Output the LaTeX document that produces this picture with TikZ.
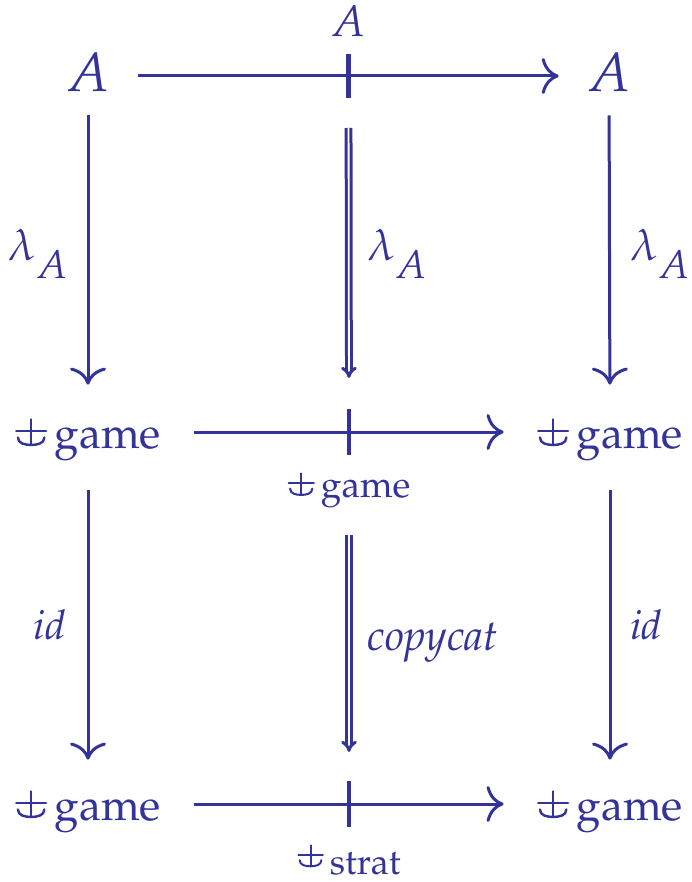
\documentclass[tikz,border=0pt]{standalone}
\usepackage{mathpazo}
\usepackage{xcolor}
\definecolor{diagblue}{RGB}{51,51,153}
\usetikzlibrary{arrows.meta, positioning}

% the barred fork symbol
\newcommand{\hitch}{\tikz[baseline=0pt, x=1em, y=1em, line width=0.055em, line cap=round, shorten <=0pt, shorten >=0pt]{%
  \draw (0,0.39) -- (0.68,0.39);
  \draw (0.34,0.07) -- (0.34,0.65);
  \draw (0.04,0.24) .. controls (0.04,0.1) and (0.2,0.07) .. (0.34,0.07) .. controls (0.48,0.07) and (0.64,0.1) .. (0.64,0.24);}}
\newcommand{\lamA}{$\lambda$\raisebox{-9pt}{\fontsize{20}{24}\selectfont$A$}}

\begin{document}
\begin{tikzpicture}[x=0.5pt, y=-0.5pt, color=diagblue,
  obj/.style={inner sep=0pt, text height=19pt, text depth=3pt, font=\fontsize{27.5}{30}\selectfont},
  gobj/.style={inner sep=0pt, text height=19pt, text depth=3pt, font=\fontsize{22}{26}\selectfont},
  lbl/.style={inner sep=0pt, font=\fontsize{#1}{24}\selectfont},
  arr/.style={line width=1.5pt, -{Computer Modern Rightarrow[length=8.5pt, width=18pt, line width=1.5pt]}},
  dbl/.style={double, double distance=0.9pt, line width=1.5pt, -{Implies}},
  tickmark/.style={line width=2.2pt}
]
\useasboundingbox (0,0) rectangle (691,882);

% objects
\node[obj] (tl) at (88,76) {$A$};
\node[obj] (tr) at (609,76) {$A$};
\node[gobj] (ml) at (88,432) {$\hitch\,\mathrm{game}$};
\node[gobj] (mr) at (610,432) {$\hitch\,\mathrm{game}$};
\node[gobj] (bl) at (88,804) {$\hitch\,\mathrm{game}$};
\node[gobj] (br) at (610,804) {$\hitch\,\mathrm{game}$};

% horizontal arrows with their ticks
\draw[arr, shorten <=14pt, shorten >=14pt] (tl) -- coordinate[pos=0.5] (t1) (tr);
\draw[arr, shorten <=16.5pt, shorten >=16.5pt] (ml) -- coordinate[pos=0.5] (m1) (mr);
\draw[arr, shorten <=16.5pt, shorten >=16.5pt] (bl) -- coordinate[pos=0.5] (b1) (br);
\draw[tickmark] ([yshift=11pt]t1) -- ([yshift=-11pt]t1);
\draw[tickmark] ([yshift=11.5pt]m1) -- ([yshift=-11.5pt]m1);
\draw[tickmark] ([yshift=11.5pt]b1) -- ([yshift=-11.5pt]b1);

\node[lbl=22, above=19.5pt of t1] (tlab) {$A$};
\node[lbl=18.5, below=20pt of m1] (mlab) {$\hitch\,\mathrm{game}$};
\node[lbl=18, below=20pt of b1] (blab) {$\hitch\,\raisebox{-2.8pt}{$\mathrm{strat}$}$};

% vertical arrows
\draw[arr, shorten <=8.5pt, shorten >=12.5pt] (tl) -- node[lbl=22, left=9.5pt] {\lamA} (ml);
\draw[arr, shorten <=8.5pt, shorten >=12.5pt] (tr) -- node[lbl=22, right=9.5pt] {\lamA} (mr);
\draw[arr, shorten <=18pt, shorten >=11pt] (ml) -- node[lbl=20.5, left=10.5pt, pos=0.52] {$\mathit{id}$} (bl);
\draw[arr, shorten <=18pt, shorten >=11pt] (mr) -- node[lbl=20.5, right=9.5pt, pos=0.52] {$\mathit{id}$} (br);

% cells
\draw[dbl, shorten <=26pt, shorten >=27pt] (t1) -- node[lbl=22, right=8.5pt] {\lamA} (m1);
\draw[dbl, shorten <=51.5pt, shorten >=26pt] (m1) -- node[lbl=21.5, right=8.5pt, pos=0.565] {$\mathit{copycat}$} (b1);
\end{tikzpicture}
\end{document}
